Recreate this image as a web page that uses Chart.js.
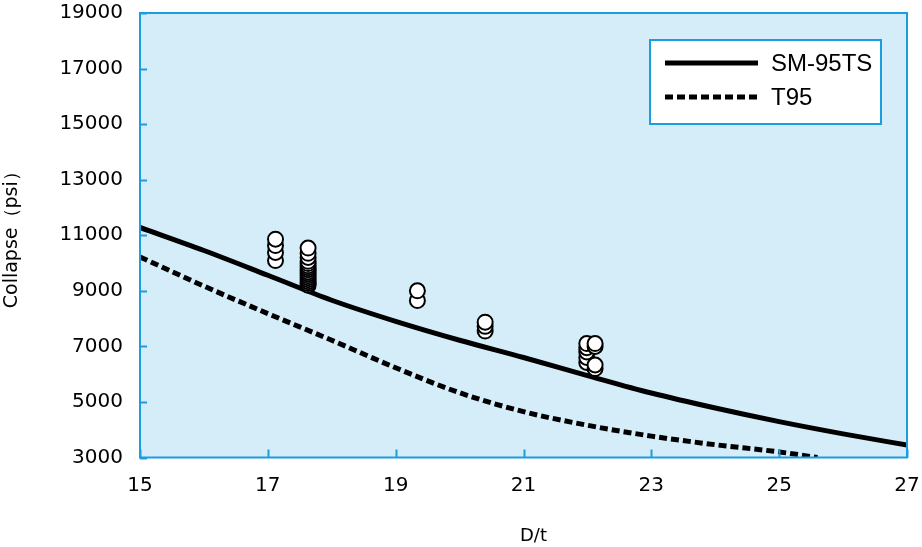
<!DOCTYPE html>
<html>
<head>
<meta charset="utf-8">
<script src="https://cdn.jsdelivr.net/npm/chart.js@4/dist/chart.umd.min.js"></script>
<style>
html,body{margin:0;padding:0;background:#fff;}
#wrap{width:922px;height:547px;position:relative;}
</style>
</head>
<body>
<div id="wrap"><canvas id="c" width="922" height="547"></canvas></div>
<script>
// ---- data ----
const xTickValues = [15, 17, 19, 21, 23, 25, 27];
const yTickValues = [3000, 5000, 7000, 9000, 11000, 13000, 15000, 17000, 19000];

const sm95tsLabel = 'SM-95TS';
const sm95tsDt = [15, 16, 17, 18, 19, 20, 21, 22, 23, 24, 25, 26, 27];
const sm95tsCollapse = [11280, 10450, 9560, 8660, 7900, 7220, 6600, 5950, 5320, 4780, 4290, 3850, 3450];

const t95Label = 'T95';
const t95Dt = [15, 16, 17, 18, 19, 20, 21, 22, 23, 24, 25, 25.6];
const t95Collapse = [10220, 9170, 8180, 7220, 6230, 5330, 4650, 4160, 3770, 3460, 3200, 3000];

const testDt = [17.12, 17.12, 17.12, 17.12,
  17.63, 17.63, 17.63, 17.63, 17.63, 17.63, 17.63, 17.63, 17.63, 17.63, 17.63, 17.63, 17.63, 17.63, 17.63, 17.63,
  19.34, 19.34,
  20.40, 20.40, 20.40,
  21.99, 21.99, 21.99, 21.99, 21.99,
  22.12, 22.12, 22.12, 22.12];
const testCollapse = [10090, 10380, 10630, 10860,
  9200, 9260, 9330, 9400, 9470, 9540, 9610, 9680, 9760, 9830, 9900, 9980, 10060, 10200, 10350, 10540,
  8650, 9000,
  7550, 7720, 7870,
  6420, 6600, 6800, 6950, 7100,
  6200, 6330, 7000, 7100];

const xTitle = 'D/t';
const yTitle = 'Collapse（psi）';

// ---- build ----
const toXY = (xs, ys) => xs.map((x, i) => ({x: x, y: ys[i]}));
const BLUE = '#1b9de2';
const BG = '#d5ecf9';
const TICK_FONT = {family: 'DejaVu Sans', size: 20};

const plotDecor = {
  id: 'plotDecor',
  beforeDatasetsDraw(chart) {
    const {ctx, chartArea: a} = chart;
    ctx.save();
    ctx.fillStyle = BG;
    ctx.fillRect(a.left, a.top, a.right - a.left, a.bottom - a.top);
    ctx.restore();
  },
  afterDatasetsDraw(chart) {
    const {ctx, chartArea: a, scales} = chart;
    ctx.save();
    ctx.strokeStyle = BLUE;
    ctx.lineWidth = 2;
    ctx.strokeRect(a.left, a.top, a.right - a.left, a.bottom - a.top);
    ctx.beginPath();
    yTickValues.forEach(v => {
      const y = Math.round(scales.y.getPixelForValue(v)) + 0.5;
      ctx.moveTo(a.left, y); ctx.lineTo(a.left + 7, y);
    });
    xTickValues.forEach(v => {
      const x = Math.round(scales.x.getPixelForValue(v)) + 0.5;
      ctx.moveTo(x, a.bottom); ctx.lineTo(x, a.bottom - 8);
    });
    ctx.stroke();
    // legend box
    const bx = 650, by = 40, bw = 231, bh = 84;
    ctx.fillStyle = '#ffffff';
    ctx.fillRect(bx, by, bw, bh);
    ctx.strokeRect(bx, by, bw, bh);
    const items = chart.data.datasets.filter(d => d.showInLegend);
    items.forEach((d, i) => {
      const y = by + 23 + i * 34;
      ctx.strokeStyle = '#000';
      ctx.lineWidth = 5;
      ctx.setLineDash(d.borderDash || []);
      ctx.beginPath();
      ctx.moveTo(bx + 15, y); ctx.lineTo(bx + 108, y);
      ctx.stroke();
      ctx.setLineDash([]);
      ctx.fillStyle = '#000';
      ctx.font = '24px "Liberation Sans"';
      ctx.textBaseline = 'middle';
      ctx.textAlign = 'left';
      ctx.fillText(d.label, bx + 121, y + 1);
    });
    // x axis title (placed slightly right of centre, as in the original)
    ctx.font = '18px "DejaVu Sans"';
    ctx.textAlign = 'center';
    ctx.textBaseline = 'middle';
    ctx.fillText(xTitle, (a.left + a.right) / 2 + 10, 536);
    ctx.restore();
  }
};

const zeroPad = s => { s.paddingTop = 0; s.paddingBottom = 0; s.paddingLeft = 0; s.paddingRight = 0; };

new Chart(document.getElementById('c'), {
  data: {
    datasets: [
      {
        type: 'scatter', label: 'Test', data: toXY(testDt, testCollapse),
        pointStyle: 'circle', pointRadius: 7.5, pointBorderWidth: 2,
        pointBackgroundColor: '#ffffff', pointBorderColor: '#000000', order: 0
      },
      {
        type: 'line', label: sm95tsLabel, data: toXY(sm95tsDt, sm95tsCollapse),
        borderColor: '#000', borderWidth: 5, pointRadius: 0, fill: false,
        cubicInterpolationMode: 'monotone', showInLegend: true, order: 1
      },
      {
        type: 'line', label: t95Label, data: toXY(t95Dt, t95Collapse),
        borderColor: '#000', borderWidth: 5, borderDash: [8, 4], pointRadius: 0, fill: false,
        cubicInterpolationMode: 'monotone', showInLegend: true, order: 2
      }
    ]
  },
  options: {
    responsive: false,
    animation: false,
    events: [],
    layout: {padding: {top: 13, right: 15, left: 0, bottom: 0}},
    plugins: {legend: {display: false}, tooltip: {enabled: false}},
    scales: {
      x: {
        type: 'linear', min: 15, max: 27,
        grid: {display: false, drawTicks: false},
        border: {display: false},
        afterBuildTicks: s => { s.ticks = xTickValues.map(v => ({value: v})); },
        afterFit: s => { s.height = 89.5; zeroPad(s); },
        ticks: {color: '#000', font: TICK_FONT, padding: 16, maxRotation: 0},
        title: {display: false}
      },
      y: {
        type: 'linear', min: 3000, max: 19000,
        grid: {display: false, drawTicks: false},
        border: {display: false},
        afterBuildTicks: s => { s.ticks = yTickValues.map(v => ({value: v})); },
        afterFit: s => { s.width = 140; zeroPad(s); },
        ticks: {color: '#000', font: TICK_FONT, padding: 17, callback: v => String(v)},
        title: {display: true, text: yTitle, color: '#000',
          font: {family: 'DejaVu Sans', size: 19}, padding: {top: 1, bottom: 0}}
      }
    }
  },
  plugins: [plotDecor]
});
</script>
</body>
</html>
